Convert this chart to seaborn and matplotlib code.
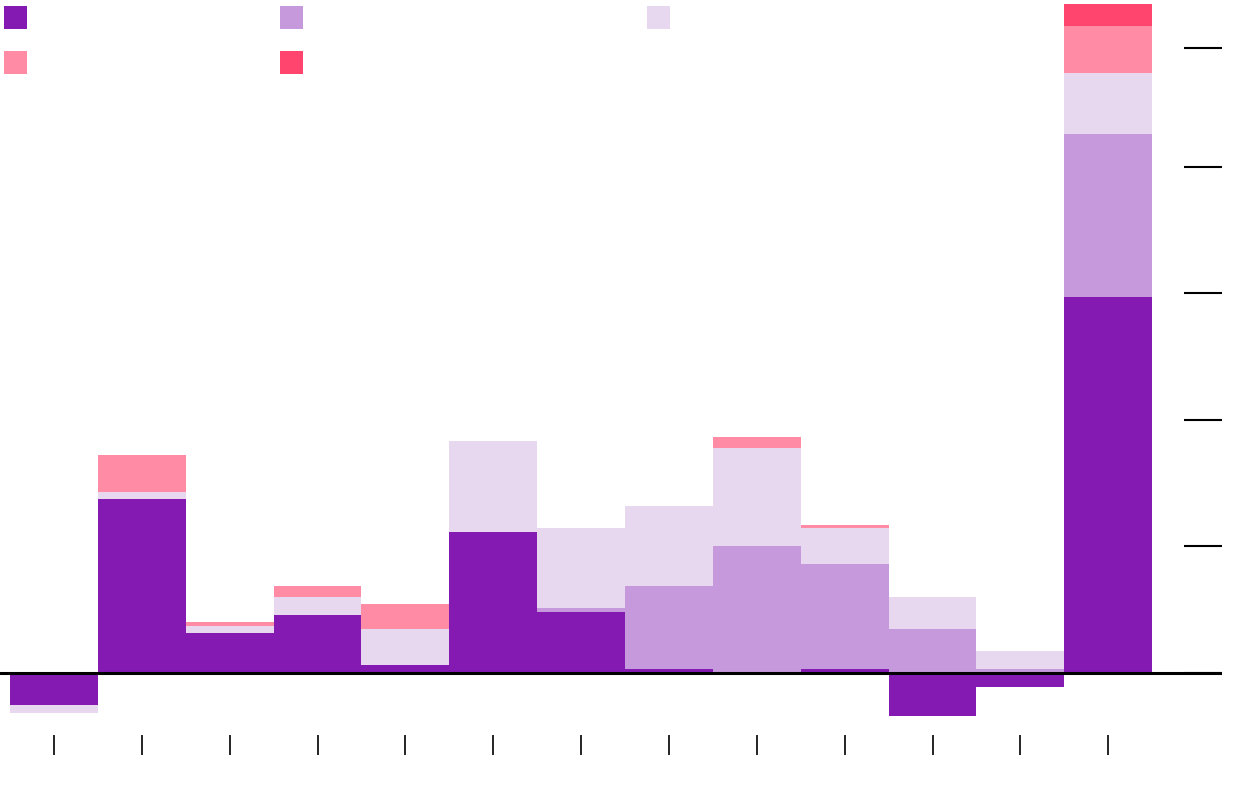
import matplotlib
matplotlib.use('Agg')
import matplotlib.pyplot as plt
import numpy as np
import pandas as pd
import seaborn as sns
from matplotlib.patches import Patch

# Data (one tick step = 10 units)
groups = ['G01', 'G02', 'G03', 'G04', 'G05', 'G06', 'G07',
          'G08', 'G09', 'G10', 'G11', 'G12', 'G13']
series_a = [-2.57, 13.7, 3.14, 4.56, 0.58, 11.12, 4.82, 0.27, 0.0, 0.27, -3.42, -1.15, 29.7]
series_b = [0.0, 0.0, 0.0, 0.0, 0.0, 0.0, 0.29, 6.58, 9.99, 8.3, 3.43, 0.27, 12.9]
series_c = [-0.63, 0.58, 0.58, 1.45, 2.85, 7.19, 6.35, 6.3, 7.76, 2.9, 2.58, 1.45, 4.82]
series_d = [0.0, 2.9, 0.29, 0.87, 2.02, 0.0, 0.0, 0.0, 0.87, 0.24, 0.0, 0.0, 3.72]
series_e = [0.0, 0.0, 0.0, 0.0, 0.0, 0.0, 0.0, 0.0, 0.0, 0.0, 0.0, 0.0, 1.74]
y_ticks = [0, 10, 20, 30, 40, 49.4]

colors = ['#841ab2', '#c699dc', '#e7d8f0', '#ff8ba5', '#ff446e']

df = pd.DataFrame({'group': groups, 'a': series_a, 'b': series_b,
                   'c': series_c, 'd': series_d, 'e': series_e})
cols = ['a', 'b', 'c', 'd', 'e']

# positive and negative parts stack separately
pos = df[cols].clip(lower=0).cumsum(axis=1)
neg = df[cols].clip(upper=0).cumsum(axis=1)

sns.set_style('white')
fig = plt.figure(figsize=(12.4, 8), dpi=100)
ax = fig.add_axes([0, 65 / 800, 1222 / 1240, 735 / 800])

# draw outermost layer first so inner layers cover it
for k in range(len(cols) - 1, -1, -1):
    for stack in (pos, neg):
        sns.barplot(x=df['group'], y=stack[cols[k]], order=groups, color=colors[k],
                    saturation=1, width=1, linewidth=0, errorbar=None, ax=ax)

ax.axhline(0, color='black', lw=2.2, zorder=5)

ax.set_xlim(-0.614, 13.295)
ax.set_ylim(-4.925, 53.18)
ax.set_yticks(y_ticks)
ax.yaxis.tick_right()
ax.tick_params(axis='y', direction='in', length=27.4, width=1.5, color='black',
               labelright=False, labelleft=False, right=True, left=False)
ax.tick_params(axis='x', direction='out', length=14.4, width=1.2, color='black',
               labelbottom=False, bottom=True)
ax.set_xlabel('')
ax.set_ylabel('')
for s in ax.spines.values():
    s.set_visible(False)

# legend: squares with no labels, laid out in three columns
handles = [Patch(facecolor=c, linewidth=0) for c in colors]
legend_cols = [([handles[0], handles[3]], 4), ([handles[1], handles[4]], 280), ([handles[2]], 647)]
for hs, xpx in legend_cols:
    fig.legend(handles=hs, labels=[''] * len(hs), loc='upper left',
               bbox_to_anchor=(xpx / 1240, 1 - 6 / 800), frameon=False,
               fontsize=10, borderpad=0, borderaxespad=0, handlelength=1.656,
               handleheight=2.171, handletextpad=0, labelspacing=1.584)

fig.savefig('out.png', dpi=100)
